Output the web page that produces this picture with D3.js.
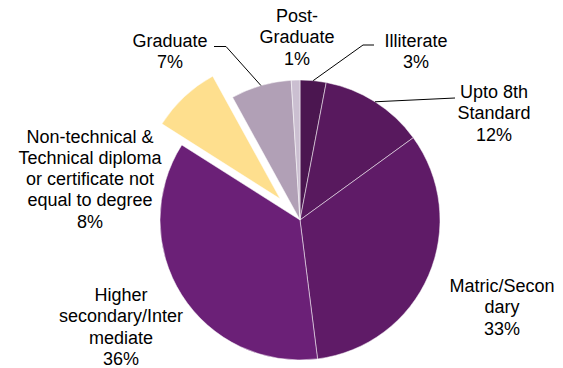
<!DOCTYPE html>
<html>
<head>
<meta charset="utf-8">
<script src="https://cdn.jsdelivr.net/npm/d3@7"></script>
<style>
  html, body { margin: 0; padding: 0; background: #fff; }
  svg { display: block; }
  text { font-family: "Liberation Sans", Arial, sans-serif; font-size: 18px; fill: #000; }
</style>
</head>
<body>
<svg id="chart" width="563" height="368"></svg>
<script>
// Education levels, clockwise from 12 o'clock
const categories = [
  "Illiterate",
  "Upto 8th Standard",
  "Matric/Secondary",
  "Higher secondary/Intermediate",
  "Non-technical & Technical diploma or certificate not equal to degree",
  "Graduate",
  "Post-Graduate"
];
const shares = [3, 12, 33, 36, 8, 7, 1];
const labelLines = [
  ["Illiterate", "3%"],
  ["Upto 8th", "Standard", "12%"],
  ["Matric/Secon", "dary", "33%"],
  ["Higher", "secondary/Inter", "mediate", "36%"],
  ["Non-technical &", "Technical diploma", "or certificate not", "equal to degree", "8%"],
  ["Graduate", "7%"],
  ["Post-", "Graduate", "1%"]
];
const colors = ["#4b1650", "#58195e", "#5f1b67", "#6b2077", "#fedf8e", "#b1a0b6", "#cbbfd1"];
const explodedIndex = 4;

// Layout
const cx = 300, cy = 220, radius = 140, explodeBy = 29, lineHeight = 21.3;
// label block anchor: centre x and first baseline y; elbow = leader line bend (null = no leader)
const labelLayout = [
  { x: 416, y: 46.5, elbow: [363, 45], end: [374, 45] },
  { x: 494, y: 98, elbow: null, end: [455, 98] },
  { x: 502, y: 292, elbow: null, end: null },
  { x: 121, y: 301, elbow: null, end: null },
  { x: 90, y: 142.5, elbow: null, end: null },
  { x: 170, y: 47, elbow: [226, 46.5], end: [214, 46.5] },
  { x: 297, y: 22, elbow: null, end: null }
];

const svg = d3.select("#chart");
const g = svg.append("g").attr("transform", `translate(${cx},${cy})`);

const pie = d3.pie().sort(null).value(d => d);
const arcs = pie(shares);
const arc = d3.arc().innerRadius(0).outerRadius(radius);

g.selectAll("path.slice")
  .data(arcs)
  .join("path")
  .attr("class", "slice")
  .attr("d", arc)
  .attr("fill", (d, i) => colors[i])
  .attr("stroke", "#ffffff")
  .attr("stroke-width", 0.5)
  .attr("transform", (d, i) => {
    if (i !== explodedIndex) return null;
    const a = (d.startAngle + d.endAngle) / 2;
    return `translate(${explodeBy * Math.sin(a)},${-explodeBy * Math.cos(a)})`;
  });

// Leader lines from the slice's outer mid-point to its label
arcs.forEach((d, i) => {
  const L = labelLayout[i];
  if (!L.end) return;
  const a = (d.startAngle + d.endAngle) / 2;
  const p0 = [cx + radius * Math.sin(a), cy - radius * Math.cos(a)];
  const pts = L.elbow ? [p0, L.elbow, L.end] : [p0, L.end];
  svg.append("path")
    .attr("d", d3.line()(pts))
    .attr("fill", "none")
    .attr("stroke", "#000")
    .attr("stroke-width", 1);
});

// Labels
labelLines.forEach((lines, i) => {
  const L = labelLayout[i];
  const t = svg.append("text").attr("text-anchor", "middle");
  lines.forEach((s, k) => {
    t.append("tspan").attr("x", L.x).attr("y", L.y + k * lineHeight).text(s);
  });
});
</script>
</body>
</html>
